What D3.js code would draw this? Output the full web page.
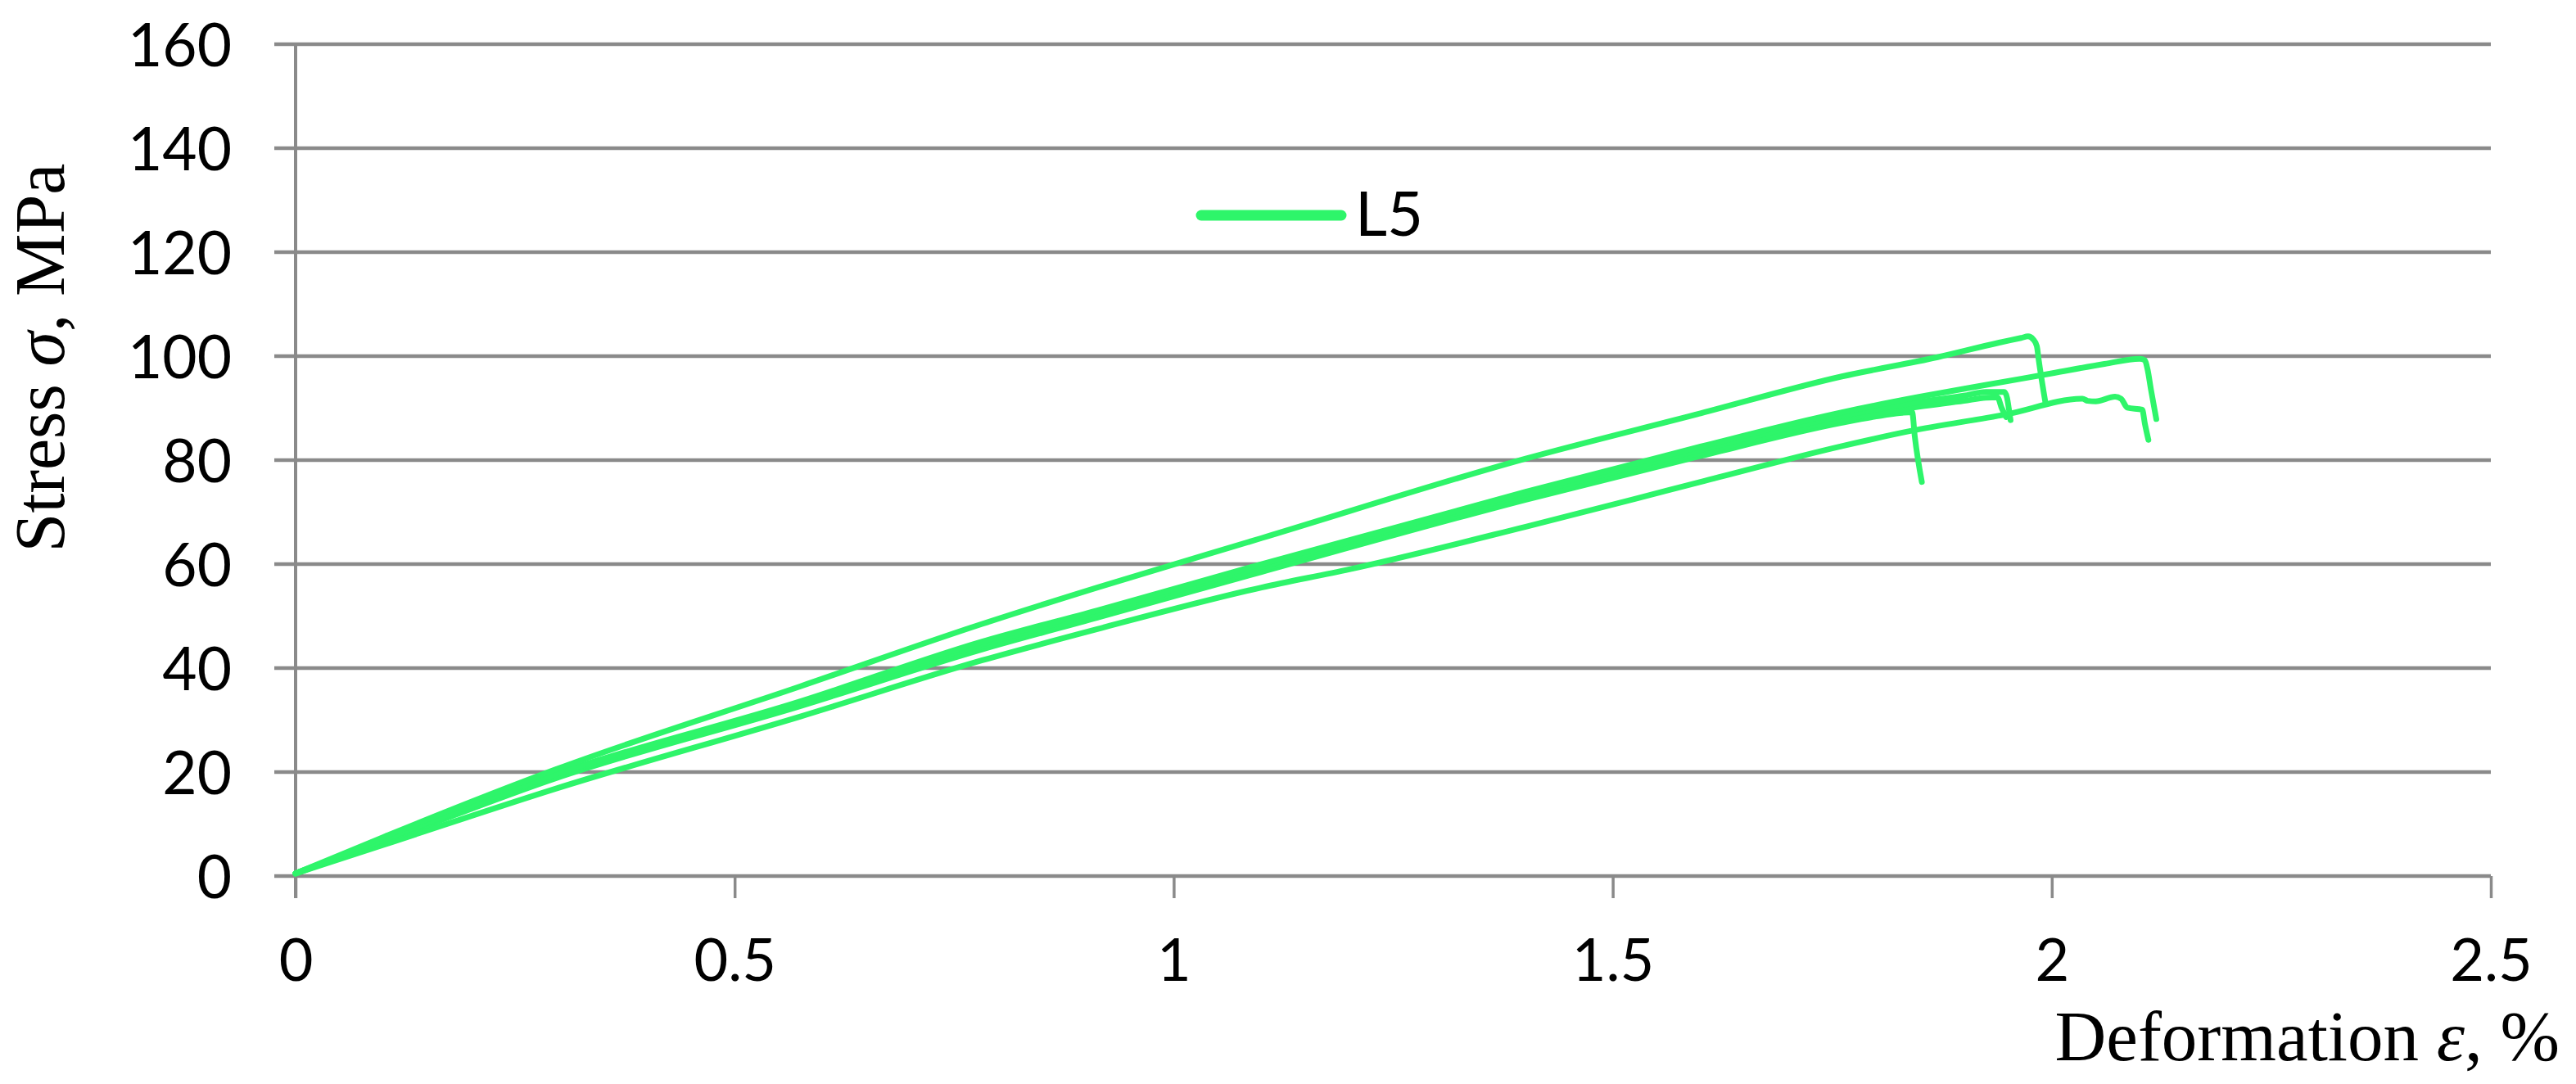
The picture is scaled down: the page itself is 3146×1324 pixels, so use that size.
<!DOCTYPE html>
<html>
<head>
<meta charset="utf-8">
<script src="https://cdn.jsdelivr.net/npm/d3@7/dist/d3.min.js"></script>
<style>
  html, body { margin: 0; padding: 0; background: #ffffff; }
  svg { display: block; }
</style>
</head>
<body>
<svg id="chart" width="3146" height="1324"></svg>
<script>
// ---------- data ----------
const xTicks = [0, 0.5, 1, 1.5, 2, 2.5];
const xTickLabels = ["0", "0.5", "1", "1.5", "2", "2.5"];
const yTicks = [0, 20, 40, 60, 80, 100, 120, 140, 160];
const yTickLabels = ["0", "20", "40", "60", "80", "100", "120", "140", "160"];
const legendLabel = "L5";
const xTitle = "Deformation ";
const xTitleSym = "ε";
const xTitleUnit = ", %";
const yTitle = "Stress ";
const yTitleSym = "σ";
const yTitleUnit = ", MPa";

// specimen A (highest curve)
const strainA = [0, 0.1, 0.296, 0.575, 0.782, 0.913, 1.1, 1.401, 1.6, 1.761, 1.87, 1.94, 1.965, 1.973, 1.979, 1.983, 1.985, 1.993];
const stressA = [0.5, 7.5, 20.5, 36.5, 48.5, 55.5, 65.0, 80.3, 89.0, 96.1, 99.8, 102.6, 103.5, 103.8, 103.2, 101.9, 99.4, 90.8];
// specimen B (top of bundle, reaching 2.1 %)
const strainB = [0, 0.1, 0.296, 0.575, 0.782, 0.913, 1.1, 1.401, 1.6, 1.761, 1.85, 1.923, 2.0, 2.06, 2.1, 2.106, 2.109, 2.113, 2.119];
const stressB = [0.5, 7.0, 19.6, 33.6, 45.1, 51.1, 60.0, 73.9, 82.6, 89.2, 92.2, 94.4, 96.7, 98.5, 99.5, 99.2, 97.5, 93.5, 87.9];
// specimen C1 (bundle)
const strainC1 = [0, 0.1, 0.296, 0.575, 0.782, 0.913, 1.1, 1.401, 1.6, 1.761, 1.85, 1.9, 1.925, 1.946, 1.949, 1.951, 1.953];
const stressC1 = [0.5, 7.0, 19.3, 33.3, 44.6, 50.6, 59.5, 73.4, 82.0, 88.5, 91.2, 92.4, 93.1, 93.1, 92.0, 90.0, 87.7];
// specimen C2 (bundle)
const strainC2 = [0, 0.1, 0.296, 0.575, 0.782, 0.913, 1.1, 1.401, 1.6, 1.761, 1.85, 1.9, 1.925, 1.938, 1.943, 1.948];
const stressC2 = [0.5, 6.8, 19.0, 33.0, 44.1, 50.1, 59.0, 72.9, 81.4, 87.8, 90.3, 91.4, 92.0, 92.1, 90.0, 88.3];
// specimen D (bundle bottom, breaks first)
const strainD = [0, 0.1, 0.296, 0.575, 0.782, 0.913, 1.1, 1.401, 1.6, 1.761, 1.8, 1.83, 1.841, 1.844, 1.852];
const stressD = [0.5, 6.6, 18.8, 32.7, 43.6, 49.7, 58.5, 72.4, 80.8, 87.2, 88.4, 89.1, 89.2, 84.5, 75.8];
// specimen E (lowest curve)
const strainE = [0, 0.1, 0.296, 0.575, 0.782, 0.913, 1.1, 1.2, 1.401, 1.6, 1.761, 1.839, 1.948, 2.035, 2.041, 2.05, 2.072, 2.079, 2.086, 2.103, 2.106, 2.110];
const stressE = [0.5, 6.0, 16.8, 30.7, 41.5, 47.5, 55.5, 59.0, 67.2, 75.8, 82.7, 85.6, 88.8, 91.8, 91.4, 91.3, 92.2, 91.8, 90.1, 89.7, 87.0, 83.9];

const specimens = [
  {x: strainE, y: stressE},
  {x: strainD, y: stressD},
  {x: strainC2, y: stressC2},
  {x: strainC1, y: stressC1},
  {x: strainB, y: stressB},
  {x: strainA, y: stressA}
];

// ---------- layout ----------
const X0 = 361, X1 = 3042, Y0 = 1070, Y1 = 54;
const gridColor = "#8a8a8a";
const lineColor = "#2ef56a";
const sansFont = "Lato, 'Open Sans', sans-serif";
const serifFont = "'Liberation Serif', 'DejaVu Serif', serif";

const svg = d3.select("#chart");
svg.append("rect").attr("width", 3146).attr("height", 1324).attr("fill", "#ffffff");

const x = d3.scaleLinear().domain([0, 2.5]).range([X0, X1]);
const y = d3.scaleLinear().domain([0, 160]).range([Y0, Y1]);

// horizontal gridlines (extend left of the axis as tick stubs)
svg.append("g").selectAll("line").data(yTicks).join("line")
  .attr("x1", X0 - 26).attr("x2", X1)
  .attr("y1", d => y(d)).attr("y2", d => y(d))
  .attr("stroke", gridColor).attr("stroke-width", 4.5);

// y axis
const yAxis = d3.axisLeft(y).tickValues(yTicks)
  .tickFormat((d, i) => yTickLabels[i]).tickSize(0).tickPadding(78);
const gy = svg.append("g").attr("transform", `translate(${X0},0)`).call(yAxis);
gy.select(".domain").remove();
gy.selectAll("text").attr("font-family", sansFont).attr("font-size", 73)
  .attr("fill", "#000").attr("dy", "0.36em");

svg.append("line").attr("x1", X0).attr("x2", X0)
  .attr("y1", Y1).attr("y2", Y0 + 27)
  .attr("stroke", gridColor).attr("stroke-width", 4);

// x axis
const xAxis = d3.axisBottom(x).tickValues(xTicks)
  .tickFormat((d, i) => xTickLabels[i]).tickSize(27).tickSizeOuter(0).tickPadding(50);
const gx = svg.append("g").attr("transform", `translate(0,${Y0})`).call(xAxis);
gx.select(".domain").remove();
gx.selectAll(".tick line").attr("stroke", gridColor).attr("stroke-width", 3.5);
gx.selectAll("text").attr("font-family", sansFont).attr("font-size", 72).attr("fill", "#000");

// curves
const line = d3.line().curve(d3.curveMonotoneX).x(d => x(d[0])).y(d => y(d[1]));
svg.append("g").selectAll("path").data(specimens).join("path")
  .attr("d", s => line(s.x.map((v, i) => [v, s.y[i]])))
  .attr("fill", "none").attr("stroke", lineColor)
  .attr("stroke-width", 7).attr("stroke-linejoin", "round").attr("stroke-linecap", "round");

// legend
const lg = svg.append("g");
lg.append("line").attr("x1", 1467).attr("x2", 1638).attr("y1", 263).attr("y2", 263)
  .attr("stroke", lineColor).attr("stroke-width", 13).attr("stroke-linecap", "round");
lg.append("text").attr("x", 1655).attr("y", 288).attr("font-family", sansFont)
  .attr("font-size", 76).attr("fill", "#000").text(legendLabel);

// axis titles
const xt = svg.append("text").attr("x", 3126).attr("y", 1295).attr("text-anchor", "end")
  .attr("font-family", serifFont).attr("font-size", 87).attr("fill", "#000");
xt.append("tspan").text(xTitle);
xt.append("tspan").attr("font-style", "italic").text(xTitleSym);
xt.append("tspan").text(xTitleUnit);

const yt = svg.append("text").attr("transform", "translate(78,437) rotate(-90)")
  .attr("text-anchor", "middle")
  .attr("font-family", serifFont).attr("font-size", 86).attr("fill", "#000");
yt.append("tspan").text(yTitle);
yt.append("tspan").attr("font-style", "italic").text(yTitleSym);
yt.append("tspan").text(yTitleUnit);
</script>
</body>
</html>
